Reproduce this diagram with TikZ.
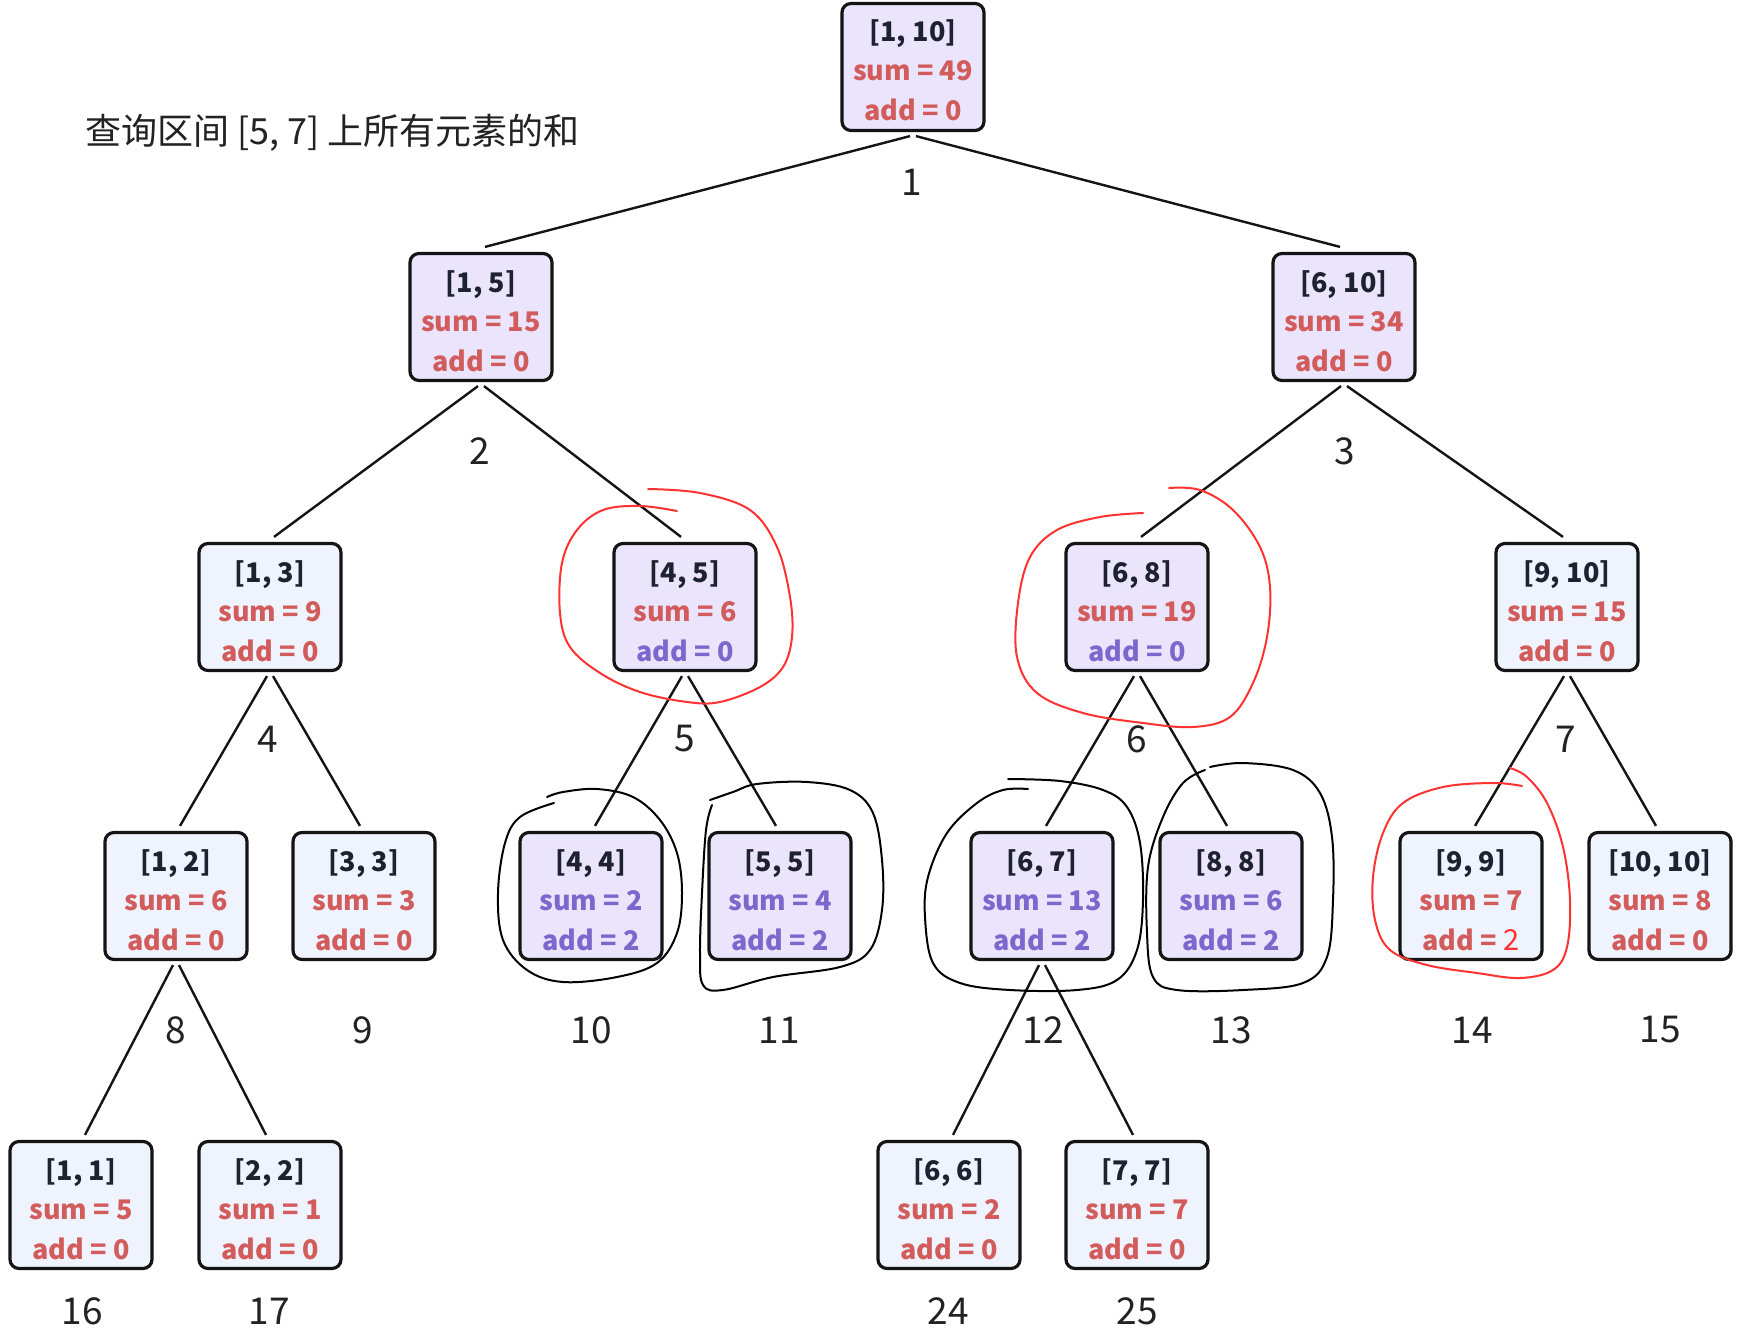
\documentclass[tikz,border=0pt]{standalone}
\usepackage{fontspec}
\setmainfont{Noto Sans CJK SC}
\usetikzlibrary{calc}
\definecolor{sred}{RGB}{210,92,92}
\definecolor{spur}{RGB}{125,103,205}
\definecolor{lav}{RGB}{234,228,253}
\definecolor{pale}{RGB}{239,243,253}
\definecolor{hdrc}{RGB}{30,34,48}
\definecolor{lblc}{RGB}{34,34,34}
\definecolor{hred}{RGB}{255,50,50}
\definecolor{boxline}{RGB}{20,20,20}
\tikzset{
  segbox/.style={draw=boxline, line width=3.2pt, rounded corners=9pt, minimum width=142pt, minimum height=127pt, inner sep=0pt},
  purplebox/.style={segbox, fill=lav},
  bluebox/.style={segbox, fill=pale},
  hdr/.style={anchor=base, inner sep=0pt, font=\fontsize{27}{30}\selectfont\bfseries, text=hdrc},
  valline/.style={anchor=base, inner sep=0pt, font=\fontsize{27}{30}\selectfont\bfseries},
  edgeline/.style={draw=boxline, line width=2.4pt},
  idx/.style={inner sep=0pt, font=\fontsize{37}{40}\selectfont, text=lblc},
  handred/.style={draw=hred, line width=2pt, line cap=round, line join=round},
  handblack/.style={draw=black, line width=2pt, line cap=round, line join=round},
}
\newcommand\segnode[9]{%
  \node[#4] (#1) at (#2,#3) {};
  \node[hdr] (#1h) at ($(#1.center)+(0,-25)$) {#5};
  \node[valline, text=#7] (#1s) at ($(#1.center)+(0,14)$) {#6};
  \node[valline, text=#9] (#1a) at ($(#1.center)+(0,54)$) {#8};
}
\newcommand\segedge[3]{%
  \draw[edgeline] ($(#1.south)+(-3*#3,4)$) -- ($(#2.north)+(4*#3,-5)$);
}
\begin{document}
\begin{tikzpicture}[x=1pt,y=-1pt]
\useasboundingbox[fill=white] (0,0) rectangle (1753,1340);

\node[anchor=west, inner sep=0pt, font=\fontsize{36}{38}\selectfont, text=lblc] (title) at (85,133) {查询区间 [5, 7] 上所有元素的和};

\segnode{n1}{913}{67}{purplebox}{[1, 10]}{sum = 49}{sred}{add = 0}{sred}
\segnode{n2}{481}{317}{purplebox}{[1, 5]}{sum = 15}{sred}{add = 0}{sred}
\segnode{n3}{1344}{317}{purplebox}{[6, 10]}{sum = 34}{sred}{add = 0}{sred}
\segnode{n4}{270}{607}{bluebox}{[1, 3]}{sum = 9}{sred}{add = 0}{sred}
\segnode{n5}{685}{607}{purplebox}{[4, 5]}{sum = 6}{sred}{add = 0}{spur}
\segnode{n6}{1137}{607}{purplebox}{[6, 8]}{sum = 19}{sred}{add = 0}{spur}
\segnode{n7}{1567}{607}{bluebox}{[9, 10]}{sum = 15}{sred}{add = 0}{sred}
\segnode{n8}{176}{896}{bluebox}{[1, 2]}{sum = 6}{sred}{add = 0}{sred}
\segnode{n9}{364}{896}{bluebox}{[3, 3]}{sum = 3}{sred}{add = 0}{sred}
\segnode{n10}{591}{896}{purplebox}{[4, 4]}{sum = 2}{spur}{add = 2}{spur}
\segnode{n11}{780}{896}{purplebox}{[5, 5]}{sum = 4}{spur}{add = 2}{spur}
\segnode{n12}{1042}{896}{purplebox}{[6, 7]}{sum = 13}{spur}{add = 2}{spur}
\segnode{n13}{1231}{896}{purplebox}{[8, 8]}{sum = 6}{spur}{add = 2}{spur}
\segnode{n14}{1471}{896}{bluebox}{[9, 9]}{sum = 7}{sred}{add =\hspace{7pt}{\fontsize{29}{30}\mdseries\color{hred}2}}{sred}
\segnode{n15}{1660}{896}{bluebox}{[10, 10]}{sum = 8}{sred}{add = 0}{sred}
\segnode{n16}{81}{1205}{bluebox}{[1, 1]}{sum = 5}{sred}{add = 0}{sred}
\segnode{n17}{270}{1205}{bluebox}{[2, 2]}{sum = 1}{sred}{add = 0}{sred}
\segnode{n24}{949}{1205}{bluebox}{[6, 6]}{sum = 2}{sred}{add = 0}{sred}
\segnode{n25}{1137}{1205}{bluebox}{[7, 7]}{sum = 7}{sred}{add = 0}{sred}

\segedge{n1}{n2}{1}
\segedge{n1}{n3}{-1}
\segedge{n2}{n4}{1}
\segedge{n2}{n5}{-1}
\segedge{n3}{n6}{1}
\segedge{n3}{n7}{-1}
\segedge{n4}{n8}{1}
\segedge{n4}{n9}{-1}
\segedge{n5}{n10}{1}
\segedge{n5}{n11}{-1}
\segedge{n6}{n12}{1}
\segedge{n6}{n13}{-1}
\segedge{n7}{n14}{1}
\segedge{n7}{n15}{-1}
\segedge{n8}{n16}{1}
\segedge{n8}{n17}{-1}
\segedge{n12}{n24}{1}
\segedge{n12}{n25}{-1}

\node[idx] (l1) at (912,182) {1};
\node[idx] (l2) at (480,451) {2};
\node[idx] (l3) at (1345,451) {3};
\node[idx] (l4) at (268,739) {4};
\node[idx] (l5) at (685,739) {5};
\node[idx] (l6) at (1137,739) {6};
\node[idx] (l7) at (1566,739) {7};
\node[idx] (l8) at (176,1030) {8};
\node[idx] (l9) at (363,1030) {9};
\node[idx] (l10) at (591,1030) {10};
\node[idx] (l11) at (779,1030) {11};
\node[idx] (l12) at (1043,1030) {12};
\node[idx] (l13) at (1231,1030) {13};
\node[idx] (l14) at (1472,1030) {14};
\node[idx] (l15) at (1660,1030) {15};
\node[idx] (l16) at (82,1311) {16};
\node[idx] (l17) at (269,1311) {17};
\node[idx] (l24) at (948,1311) {24};
\node[idx] (l25) at (1137,1311) {25};

% hand-drawn red loops
\draw[handred] plot[smooth, tension=0.6] coordinates {(648,489) (700,493) (750,510) (777,547) (790,597) (792,637) (783,667) (760,687) (720,702) (687,702) (640,692) (600,673) (570,647) (560,613) (562,563) (577,530) (603,510) (640,506) (677,511)};
\draw[handred] plot[smooth, tension=0.6] coordinates {(1169,488) (1200,490) (1233,510) (1260,547) (1270,587) (1267,637) (1253,683) (1230,717) (1193,727) (1143,723) (1083,713) (1037,693) (1017,657) (1018,603) (1030,557) (1057,530) (1100,517) (1143,513)};
\draw[handred] plot[smooth, tension=0.6] coordinates {(1522,786) (1493,783) (1443,787) (1403,803) (1383,833) (1373,877) (1375,920) (1390,950) (1427,965) (1477,973) (1520,978) (1553,970) (1567,947) (1570,900) (1563,847) (1547,803) (1527,777) (1510,768)};
% hand-drawn black loops
\draw[handblack] plot[smooth, tension=0.6] coordinates {(554,803) (520,817) (505,843) (498,893) (503,940) (527,970) (563,982) (617,977) (657,963) (677,933) (682,893) (677,853) (660,820) (633,797) (597,789) (563,792) (547,797)};
\draw[handblack] plot[smooth, tension=0.6] coordinates {(710,800) (733,792) (757,784) (807,782) (850,790) (873,813) (882,860) (882,910) (870,950) (840,967) (773,977) (723,990) (703,985) (700,953) (702,893) (706,830) (712,805)};
\draw[handblack] plot[smooth, tension=0.6] coordinates {(1028,789) (1003,790) (977,803) (947,833) (928,877) (925,917) (933,963) (960,983) (1010,990) (1077,990) (1117,980) (1137,950) (1143,900) (1140,843) (1127,807) (1103,790) (1060,781) (1008,779)};
\draw[handblack] plot[smooth, tension=0.6] coordinates {(1210,767) (1243,763) (1293,770) (1320,793) (1332,837) (1333,900) (1327,957) (1303,983) (1243,990) (1177,990) (1153,977) (1147,933) (1148,867) (1163,817) (1183,783) (1205,770)};
\end{tikzpicture}
\end{document}
